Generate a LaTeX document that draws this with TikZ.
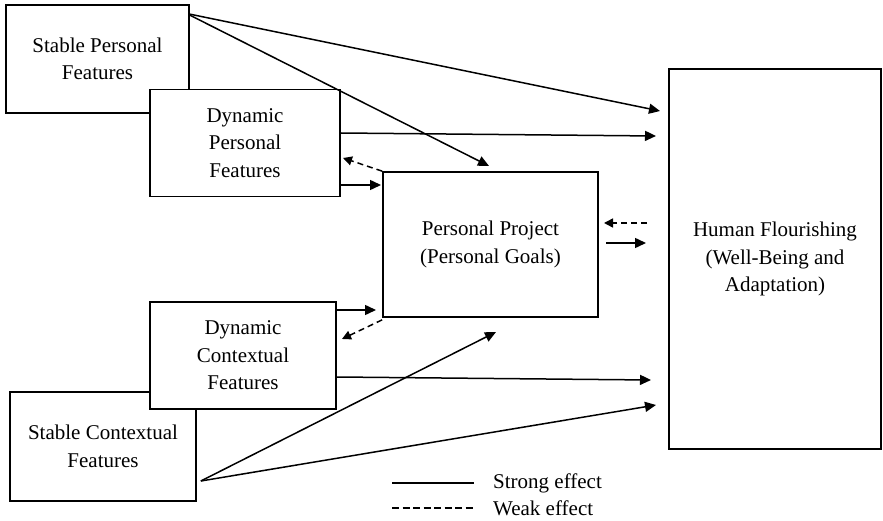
\documentclass[tikz,border=0pt]{standalone}
\usepackage{fontspec}
\setmainfont{Liberation Serif}
\usetikzlibrary{arrows.meta}
\begin{document}
\begin{tikzpicture}[x=1pt,y=-1pt,
  box/.style={draw=black,line width=1.7pt,fill=white,rectangle,align=center,inner sep=0pt,
    font=\fontsize{21}{27.5}\selectfont},
  strong/.style={line width=1.5pt,-{Triangle[length=11pt,width=10pt]}},
  weak/.style={line width=1.5pt,dash pattern=on 6pt off 4pt,-{Triangle[length=9pt,width=9pt]}},
  lbl/.style={font=\fontsize{21}{24}\selectfont,anchor=west,inner sep=0pt}]
\useasboundingbox (0,0) rectangle (883,521);
% boxes
\node[box,minimum width=183pt,minimum height=108pt] (spf) at (97.5,59) {Stable Personal\\Features};
\node[box,minimum width=190pt,minimum height=107pt] (dpf) at (245,143) {Dynamic\\Personal\\Features};
\node[box,minimum width=215pt,minimum height=145pt] (pp) at (490.5,244.5) {Personal Project\\(Personal Goals)};
\node[box,minimum width=212pt,minimum height=380pt] (hf) at (775,259) {Human Flourishing\\(Well-Being and\\Adaptation)};
\node[box,minimum width=186pt,minimum height=109pt] (scf) at (103,446.5) {Stable Contextual\\Features};
\node[box,minimum width=186pt,minimum height=107pt] (dcf) at (243,355.5) {Dynamic\\Contextual\\Features};
% free ends
\coordinate (e1) at (660,111);
\coordinate (e2) at (489,166);
\coordinate (e3) at (656,136);
\coordinate (e4) at (343,158);
\coordinate (e5) at (381,185);
\coordinate (s6) at (647,223);
\coordinate (e6) at (604,223);
\coordinate (s7) at (606,243);
\coordinate (e7) at (646,243);
\coordinate (e8) at (376,310);
\coordinate (e9) at (342,339);
\coordinate (e10) at (496,332);
\coordinate (e11) at (656,405);
\coordinate (e12) at (651,380);
\coordinate (l1a) at (392,483);
\coordinate (l1b) at (474,483);
\coordinate (l2a) at (392,508);
\coordinate (l2b) at (474,508);
% connectors
\draw[strong] ([yshift=-10pt]spf.north east) -- (e1);
\draw[strong] ([yshift=-11pt]spf.north east) -- (e2);
\draw[strong] ([yshift=10pt]dpf.east) -- (e3);
\draw[weak] (pp.north west) -- (e4);
\draw[strong] ([yshift=-42pt]dpf.east) -- (e5);
\draw[weak] (s6) -- (e6);
\draw[strong] (s7) -- (e7);
\draw[strong] ([yshift=45.5pt]dcf.east) -- (e8);
\draw[weak] ([yshift=-2pt]pp.south west) -- (e9);
\draw[strong] ([xshift=4pt,yshift=-34.5pt]scf.east) -- (e10);
\draw[strong] ([xshift=4pt,yshift=-34.5pt]scf.east) -- (e11);
\draw[strong] ([yshift=-21.5pt]dcf.east) -- (e12);
% legend
\draw[line width=1.5pt] (l1a) -- (l1b);
\draw[line width=2.3pt,dash pattern=on 7pt off 3.5pt] (l2a) -- (l2b);
\node[lbl] (ls) at (493,483) {Strong effect};
\node[lbl] (lw) at (493,508) {Weak effect};
\end{tikzpicture}
\end{document}
